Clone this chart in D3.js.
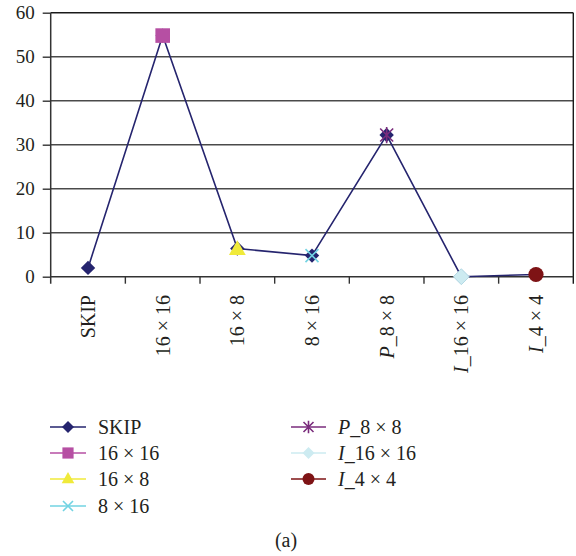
<!DOCTYPE html>
<html>
<head>
<meta charset="utf-8">
<script src="https://cdn.jsdelivr.net/npm/d3@7"></script>
<style>
  html, body { margin: 0; padding: 0; background: #fff; }
  svg { display: block; }
  svg text { font-family: 'Liberation Serif', 'Times New Roman', Times, 'DejaVu Serif', serif !important; fill: #231f20; }
</style>
</head>
<body>
<svg id="chart" width="576" height="556" font-family="Liberation Serif, serif"></svg>
<script>
// ---- data ----
const categories = ["SKIP", "16x16", "16x8", "8x16", "P_8x8", "I_16x16", "I_4x4"];
const skipValues   = [2.0, 54.8, 6.4, 4.8, 32.2, 0.0, 0.5];
const v16x16       = [null, 54.8, null, null, null, null, null];
const v16x8        = [null, null, 6.2, null, null, null, null];
const v8x16        = [null, null, null, 4.8, null, null, null];
const vP8x8        = [null, null, null, null, 32.2, null, null];
const vI16x16      = [null, null, null, null, null, 0.0, null];
const vI4x4        = [null, null, null, null, null, null, 0.5];
const yTicks = [0, 10, 20, 30, 40, 50, 60];
// label parts: [italic prefix, rest]
const labelParts = {
  "SKIP": ["", "SKIP"],
  "16x16": ["", "16 \u00D7 16"],
  "16x8": ["", "16 \u00D7 8"],
  "8x16": ["", "8 \u00D7 16"],
  "P_8x8": ["P", "_8 \u00D7 8"],
  "I_16x16": ["I", "_16 \u00D7 16"],
  "I_4x4": ["I", "_4 \u00D7 4"]
};
const seriesNames = ["SKIP", "16x16", "16x8", "8x16", "P_8x8", "I_16x16", "I_4x4"];
const seriesValues = [skipValues, v16x16, v16x8, v8x16, vP8x8, vI16x16, vI4x4];
const seriesColors = ["#25246e", "#b64fa3", "#f0ea3a", "#72d3e2", "#7a2c7c", "#cdebf1", "#7e1315"];
const seriesMarkers = ["diamond", "square", "triangle", "x", "asterisk", "diamond", "circle"];

// ---- layout ----
const svg = d3.select("#chart");
const plot = { left: 50.7, right: 573.3, top: 12.7, bottom: 276.7 };

const x = d3.scaleBand().domain(categories).range([plot.left, plot.right]).padding(0);
const y = d3.scaleLinear().domain([0, 60]).range([plot.bottom, plot.top]);

function markerPath(type, r) {
  switch (type) {
    case "diamond": return `M0,${-r}L${r},0L0,${r}L${-r},0Z`;
    case "square": return `M${-r},${-r}h${2*r}v${2*r}h${-2*r}Z`;
    case "triangle": return `M0,${-r*1.15}L${r*1.05},${r*0.7}L${-r*1.05},${r*0.7}Z`;
    case "x": return `M${-r},${-r}L${r},${r}M${r},${-r}L${-r},${r}`;
    case "asterisk": return `M${-r},${-r}L${r},${r}M${r},${-r}L${-r},${r}M0,${-r*1.25}L0,${r*1.25}`;
    case "circle": return d3.arc()({innerRadius: 0, outerRadius: r, startAngle: 0, endAngle: 2*Math.PI});
  }
}
function isStroke(type) { return type === "x" || type === "asterisk"; }

// gridlines
const grid = svg.append("g");
grid.selectAll("line").data(yTicks.filter(d => d > 0)).join("line")
  .attr("x1", plot.left).attr("x2", plot.right)
  .attr("y1", d => y(d)).attr("y2", d => y(d))
  .attr("stroke", d => d === 60 ? "#1a1a1a" : "#4a4a4a")
  .attr("stroke-width", 1.4);

// right border
svg.append("line")
  .attr("x1", plot.right).attr("x2", plot.right)
  .attr("y1", plot.top).attr("y2", plot.bottom + 7)
  .attr("stroke", "#1a1a1a").attr("stroke-width", 1.4);

// y axis
const yAxis = d3.axisLeft(y).tickValues(yTicks).tickSize(8).tickPadding(8).tickSizeOuter(0);
const gy = svg.append("g").attr("transform", `translate(${plot.left},0)`).call(yAxis);
gy.attr("font-family", null).attr("font-size", null);
gy.select(".domain").attr("stroke", "#333").attr("stroke-width", 1.5)
  .attr("d", `M0,${plot.top}V${plot.bottom + 7}`);
gy.selectAll(".tick line").attr("stroke", "#333").attr("stroke-width", 1.4);
gy.selectAll(".tick text")
  .style("font-size", "19px")
  .attr("fill", "#231f20").attr("dy", "0.33em");

// x axis (ticks at band boundaries)
const gx = svg.append("g");
gx.append("line").attr("x1", plot.left).attr("x2", plot.right)
  .attr("y1", plot.bottom).attr("y2", plot.bottom)
  .attr("stroke", "#333").attr("stroke-width", 1.6);
const boundaries = categories.map(c => x(c)).concat([x.range()[1]]);
gx.selectAll("line.tk").data(boundaries.slice(1, -1)).join("line").attr("class", "tk")
  .attr("x1", d => d).attr("x2", d => d)
  .attr("y1", plot.bottom).attr("y2", plot.bottom + 7)
  .attr("stroke", "#333").attr("stroke-width", 1.4);

// x labels, rotated
const xl = svg.append("g");
categories.forEach(c => {
  const cx = x(c) + x.bandwidth() / 2;
  const t = xl.append("text")
    .attr("transform", `translate(${cx},295) rotate(-90)`)
    .attr("text-anchor", "end")
    .attr("dy", "0.35em")
    .style("font-size", "20px");
  const [it, rest] = labelParts[c];
  if (it) t.append("tspan").style("font-style", "italic").text(it);
  t.append("tspan").text(rest);
});

// SKIP line
const line = d3.line().defined(d => d.v !== null)
  .x(d => x(d.c) + x.bandwidth() / 2).y(d => y(d.v));
svg.append("path")
  .datum(categories.map((c, i) => ({ c, v: skipValues[i] })))
  .attr("d", line).attr("fill", "none")
  .attr("stroke", seriesColors[0]).attr("stroke-width", 1.6);

// markers
const markerR = { diamond: 7.2, square: 7.3, triangle: 8, x: 6.5, asterisk: 6.5, circle: 7.6 };
seriesNames.forEach((name, si) => {
  const type = seriesMarkers[si];
  const color = seriesColors[si];
  let r = markerR[type];
  if (si === 5) r = 8;
  const pts = categories.map((c, i) => ({ c, v: seriesValues[si][i] })).filter(d => d.v !== null);
  svg.append("g").selectAll("path").data(pts).join("path")
    .attr("transform", d => `translate(${x(d.c) + x.bandwidth() / 2},${y(d.v)})`)
    .attr("d", markerPath(type, r))
    .attr("fill", isStroke(type) ? "none" : color)
    .attr("stroke", isStroke(type) ? color : (si === 5 ? "#a9d3df" : "none"))
    .attr("stroke-width", isStroke(type) ? 1.6 : 0.8);
});

// legend
const legend = svg.append("g");
const rowY = [427, 453, 479, 506];
seriesNames.forEach((name, si) => {
  const col = si < 4 ? 0 : 1;
  const row = si < 4 ? si : si - 4;
  const lx0 = col === 0 ? 50 : 291, lx1 = col === 0 ? 86 : 326, tx = col === 0 ? 98 : 338;
  const ly = rowY[row];
  const g = legend.append("g");
  g.append("line").attr("x1", lx0).attr("x2", lx1).attr("y1", ly).attr("y2", ly)
    .attr("stroke", seriesColors[si]).attr("stroke-width", 1.6);
  const type = seriesMarkers[si];
  g.append("path").attr("transform", `translate(${(lx0 + lx1) / 2},${ly})`)
    .attr("d", markerPath(type, type === "square" ? 5.6 : (type === "x" || type === "asterisk") ? 5 : 6))
    .attr("fill", isStroke(type) ? "none" : seriesColors[si])
    .attr("stroke", isStroke(type) ? seriesColors[si] : "none")
    .attr("stroke-width", 1.6);
  const t = g.append("text").attr("x", tx).attr("y", ly).attr("dy", "0.35em").style("font-size", "20px");
  const [it, rest] = labelParts[name];
  if (it) t.append("tspan").style("font-style", "italic").text(it);
  t.append("tspan").text(rest);
});

// caption
svg.append("text").attr("x", 286).attr("y", 540).attr("dy", "0.35em")
  .attr("text-anchor", "middle").style("font-size", "20px").text("(a)");
</script>
</body>
</html>
